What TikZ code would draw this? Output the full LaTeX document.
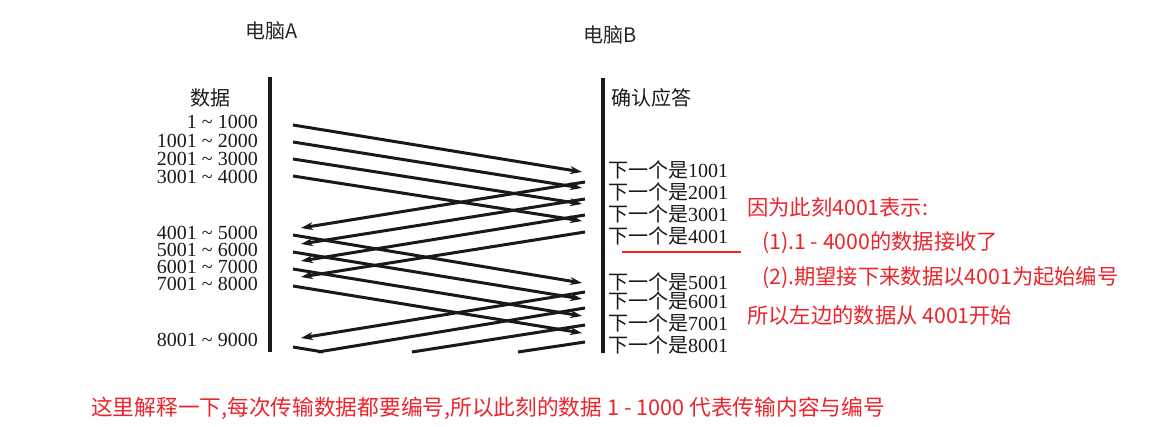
\documentclass[tikz,border=0pt]{standalone}
\usepackage{fontspec}
\setmainfont{Liberation Serif}
\newfontfamily\cjk{Noto Sans CJK SC}
\usetikzlibrary{arrows.meta}
\definecolor{notered}{RGB}{236,36,44}
\definecolor{scanink}{RGB}{25,25,25}
\tikzset{
  host/.style={font=\cjk\fontsize{20}{22}\selectfont, text=black!85, inner sep=0pt, anchor=west},
  datalbl/.style={font=\fontsize{20}{20}\selectfont, text=scanink, inner sep=0pt, anchor=east},
  acklbl/.style={font=\fontsize{20}{20}\selectfont, text=scanink, inner sep=0pt, anchor=west},
  note/.style={font=\cjk\fontsize{21.3}{23}\selectfont, text=notered, inner sep=0pt, anchor=west},
  lifeline/.style={line width=3.5pt, scanink},
  seg/.style={line width=3pt, scanink, -{Stealth[length=12pt,width=8pt]}},
  cut/.style={line width=3pt, scanink},
}
\begin{document}
\begin{tikzpicture}[x=1pt, y=-1pt]
    \useasboundingbox (0,0) rectangle (1161,427);
    % the two computers
    \node (hostA) [host] at (245,31) {电脑A};
    \node (hostB) [host] at (583,35) {电脑B};
    \coordinate (aTop) at (270,77);
    \coordinate (aBot) at (270,352);
    \coordinate (bTop) at (603,78);
    \coordinate (bBot) at (603,353);
    \draw[lifeline] (aTop) -- (aBot);
    \draw[lifeline] (bTop) -- (bBot);
    % column heads
    \node (dataHead) [datalbl, font=\cjk\fontsize{20}{20}\selectfont] at (231,98) {数据};
    \node (ackHead) [acklbl, font=\cjk\fontsize{20}{20}\selectfont] at (611,98) {确认应答};
    % data ranges
    \node (rng1) [datalbl] at (258,122) {1 \textasciitilde{} 1000};
    \node (rng2) [datalbl] at (258,141) {1001 \textasciitilde{} 2000};
    \node (rng3) [datalbl] at (258,159) {2001 \textasciitilde{} 3000};
    \node (rng4) [datalbl] at (258,177) {3001 \textasciitilde{} 4000};
    \node (rng5) [datalbl] at (258,233) {4001 \textasciitilde{} 5000};
    \node (rng6) [datalbl] at (258,250) {5001 \textasciitilde{} 6000};
    \node (rng7) [datalbl] at (258,267) {6001 \textasciitilde{} 7000};
    \node (rng8) [datalbl] at (258,284) {7001 \textasciitilde{} 8000};
    \node (rng9) [datalbl] at (258,340) {8001 \textasciitilde{} 9000};
    % acknowledgements
    \node (ack1) [acklbl] at (608,170) {{\cjk 下一个是}1001};
    \node (ack2) [acklbl] at (608,192) {{\cjk 下一个是}2001};
    \node (ack3) [acklbl] at (608,214) {{\cjk 下一个是}3001};
    \node (ack4) [acklbl] at (608,236) {{\cjk 下一个是}4001};
    \node (ack5) [acklbl] at (608,282) {{\cjk 下一个是}5001};
    \node (ack6) [acklbl] at (608,301) {{\cjk 下一个是}6001};
    \node (ack7) [acklbl] at (608,323) {{\cjk 下一个是}7001};
    \node (ack8) [acklbl] at (608,345) {{\cjk 下一个是}8001};
    % first window: data out
    \coordinate (ds1) at (293,125); \coordinate (de1) at (582,172);
    \coordinate (ds2) at (293,142); \coordinate (de2) at (582,188);
    \coordinate (ds3) at (293,159); \coordinate (de3) at (582,204);
    \coordinate (ds4) at (293,176); \coordinate (de4) at (582,221);
    \draw[seg] (ds1) -- (de1);
    \draw[seg] (ds2) -- (de2);
    \draw[seg] (ds3) -- (de3);
    \draw[seg] (ds4) -- (de4);
    % first window: acks back
    \coordinate (as1) at (585,182); \coordinate (ae1) at (301,228);
    \coordinate (as2) at (585,199); \coordinate (ae2) at (301,244);
    \coordinate (as3) at (585,215); \coordinate (ae3) at (301,261);
    \coordinate (as4) at (585,232); \coordinate (ae4) at (301,277);
    \draw[seg] (as1) -- (ae1);
    \draw[seg] (as2) -- (ae2);
    \draw[seg] (as3) -- (ae3);
    \draw[seg] (as4) -- (ae4);
    % second window: data out
    \coordinate (ds5) at (293,235); \coordinate (de5) at (582,283);
    \coordinate (ds6) at (293,252); \coordinate (de6) at (582,299);
    \coordinate (ds7) at (293,269); \coordinate (de7) at (582,316);
    \coordinate (ds8) at (293,286); \coordinate (de8) at (582,333);
    \draw[seg] (ds5) -- (de5);
    \draw[seg] (ds6) -- (de6);
    \draw[seg] (ds7) -- (de7);
    \draw[seg] (ds8) -- (de8);
    % second window: acks back (cut off at the bottom)
    \coordinate (as5) at (585,292); \coordinate (ae5) at (301,338);
    \coordinate (as6) at (585,308); \coordinate (ae6) at (318,352);
    \coordinate (as7) at (585,325); \coordinate (ae7) at (412,352);
    \coordinate (as8) at (585,342); \coordinate (ae8) at (518,352);
    \draw[seg] (as5) -- (ae5);
    \draw[cut] (as6) -- (ae6);
    \draw[cut] (as7) -- (ae7);
    \draw[cut] (as8) -- (ae8);
    \coordinate (ds9) at (293,347); \coordinate (de9) at (323,352);
    \draw[cut] (ds9) -- (de9);
    % notes
    \coordinate (markL) at (622,252);
    \coordinate (markR) at (741,252);
    \draw[notered, line width=2pt] (markL) -- (markR);
    \node (why) [note] at (747,207) {因为此刻4001表示:};
    \node (why1) [note] at (762,243) {(1).1 - 4000的数据接收了};
    \node (why2) [note] at (762,278) {(2).期望接下来数据以4001为起始编号};
    \node (so) [note] at (747,315) {所以左边的数据从 4001开始};
    \node (explain) [note, font=\cjk\fontsize{21.7}{23}\selectfont] at (91,408) {这里解释一下,每次传输数据都要编号,所以此刻的数据 1 - 1000 代表传输内容与编号};
\end{tikzpicture}
\end{document}
